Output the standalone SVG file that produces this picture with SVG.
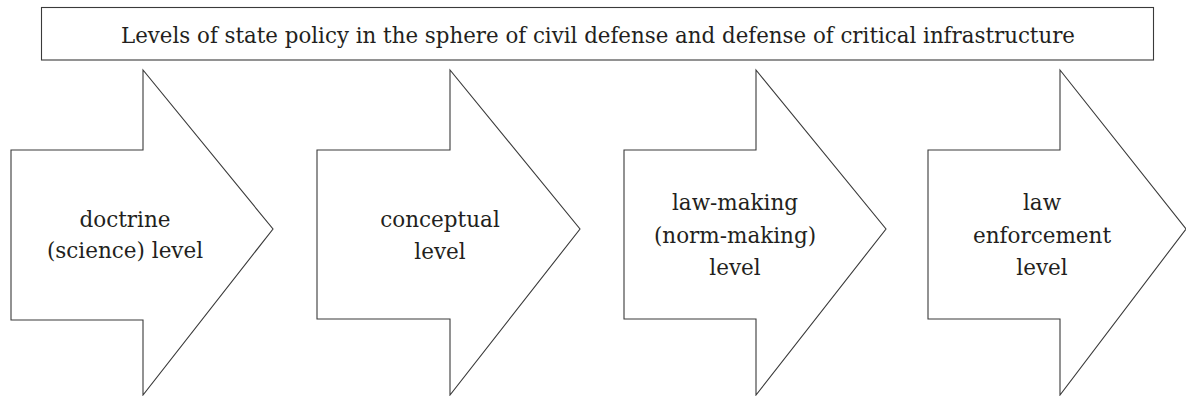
<svg xmlns="http://www.w3.org/2000/svg" width="1186" height="396" viewBox="0 0 1186 396">
<style>
.shape{fill:#fff;stroke:#3a3a3a;stroke-width:1.1}
text{font-family:'DejaVu Serif','Liberation Serif',serif;fill:#231f20;text-anchor:middle}
.t{font-size:21.5px}
.title{font-size:22px}
</style>
<rect width="1186" height="396" fill="#fff"/>
<g id="title">
<rect class="shape" x="41.5" y="7.5" width="1112" height="52.5"/>
<text class="title" x="598" y="43" textLength="954" lengthAdjust="spacingAndGlyphs">Levels of state policy in the sphere of civil defense and defense of critical infrastructure</text>
</g>
<g id="connectors"></g>
<g id="node1">
<polygon class="shape" points="11,150 143,150 143,70 273,229 143,395 143,320 11,320"/>
<text class="t" x="125" y="227">doctrine</text>
<text class="t" x="125" y="258">(science) level</text>
</g>
<g id="node2">
<polygon class="shape" points="317,150 450,150 450,70 580,229 450,395 450,319 317,319"/>
<text class="t" x="440" y="227">conceptual</text>
<text class="t" x="440" y="259">level</text>
</g>
<g id="node3">
<polygon class="shape" points="624,150 756,150 756,70 886,229 756,395 756,319 624,319"/>
<text class="t" x="735" y="210">law-making</text>
<text class="t" x="735" y="243">(norm-making)</text>
<text class="t" x="735" y="275">level</text>
</g>
<g id="node4">
<polygon class="shape" points="928,150 1060,150 1060,70 1186,229 1060,395 1060,319 928,319"/>
<text class="t" x="1042" y="210">law</text>
<text class="t" x="1042" y="243">enforcement</text>
<text class="t" x="1042" y="275">level</text>
</g>
</svg>
